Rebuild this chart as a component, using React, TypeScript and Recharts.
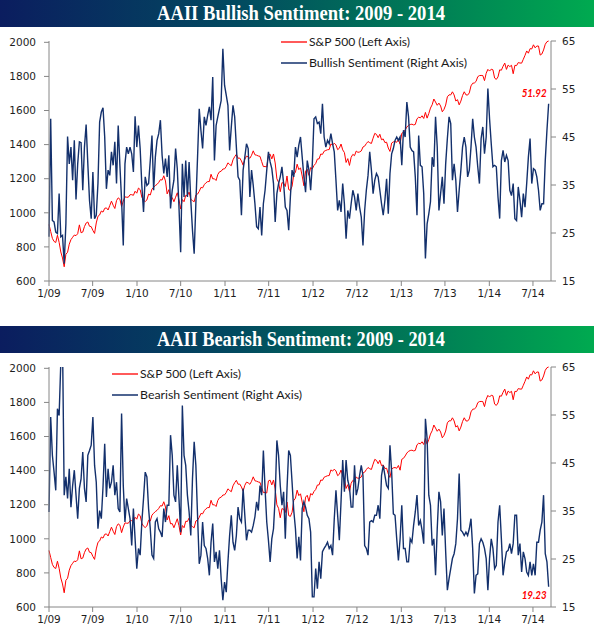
import React from 'react';
import { LabelList, Line, LineChart, XAxis, YAxis } from 'recharts';

// weekly readings, Jan 2009 through early Sep 2014
const spx = [
  931.8, 890.4, 850.1, 831.9, 825.9, 868.6, 826.8, 770.1, 735.1, 683.4,
  756.6, 768.5, 815.9, 842.5, 856.6, 869.6, 866.2, 877.5, 929.2, 882.9,
  887.0, 919.1, 940.1, 946.2, 921.2, 918.9, 896.4, 879.1, 940.4, 979.3,
  987.5, 1010.5, 1004.1, 1026.1, 1028.9, 1016.4, 1042.7, 1068.3, 1044.4, 1025.2,
  1071.5, 1087.7, 1079.6, 1036.2, 1069.3, 1093.5, 1091.4, 1091.5, 1106.0, 1106.4,
  1102.5, 1126.5, 1115.1, 1145.0, 1136.0, 1091.8, 1073.9, 1066.2, 1075.5, 1109.2,
  1104.5, 1138.7, 1150.0, 1159.9, 1166.6, 1178.1, 1194.4, 1192.1, 1217.3, 1186.7,
  1110.9, 1135.7, 1087.7, 1089.4, 1064.9, 1091.6, 1117.5, 1076.8, 1022.6, 1078.0,
  1064.9, 1102.7, 1101.6, 1121.6, 1079.3, 1071.7, 1064.6, 1104.5, 1109.6, 1125.6,
  1148.7, 1146.2, 1165.2, 1176.2, 1183.1, 1183.3, 1225.9, 1199.2, 1199.7, 1189.4,
  1224.7, 1240.4, 1243.9, 1256.8, 1257.6, 1271.5, 1293.2, 1283.4, 1276.3, 1310.9,
  1329.2, 1343.0, 1320.0, 1321.2, 1304.3, 1279.2, 1313.8, 1332.4, 1328.2, 1319.7,
  1337.4, 1363.6, 1340.2, 1337.8, 1333.3, 1331.1, 1300.2, 1271.0, 1271.5, 1268.5,
  1339.7, 1344.0, 1316.1, 1345.0, 1292.3, 1199.4, 1178.8, 1123.5, 1176.8, 1174.0,
  1154.2, 1216.0, 1136.4, 1131.4, 1155.5, 1224.6, 1238.3, 1285.1, 1253.2, 1263.9,
  1215.7, 1158.7, 1244.3, 1255.2, 1219.7, 1265.3, 1257.6, 1277.8, 1289.1, 1315.4,
  1316.3, 1344.9, 1342.6, 1361.2, 1365.7, 1370.0, 1370.9, 1404.2, 1397.1, 1408.5,
  1398.1, 1370.3, 1378.5, 1403.4, 1369.1, 1353.4, 1295.2, 1317.8, 1278.0, 1325.7,
  1342.8, 1335.0, 1362.2, 1354.7, 1356.8, 1362.7, 1386.0, 1391.0, 1405.9, 1418.2,
  1411.1, 1406.6, 1437.9, 1465.8, 1460.2, 1440.7, 1460.9, 1428.6, 1433.2, 1411.9,
  1414.2, 1379.9, 1359.9, 1409.2, 1416.2, 1418.1, 1413.6, 1430.2, 1402.4, 1466.5,
  1472.1, 1486.0, 1503.0, 1513.2, 1517.9, 1519.8, 1515.6, 1518.2, 1551.2, 1560.7,
  1556.9, 1569.2, 1553.3, 1588.9, 1555.3, 1582.2, 1614.4, 1633.7, 1667.5, 1649.6,
  1630.7, 1643.4, 1626.7, 1592.4, 1606.3, 1631.9, 1680.2, 1692.1, 1691.7, 1709.7,
  1691.4, 1655.8, 1663.5, 1633.0, 1655.2, 1688.0, 1709.9, 1691.8, 1690.5, 1703.2,
  1744.5, 1759.8, 1761.6, 1770.6, 1798.2, 1804.8, 1805.8, 1805.1, 1775.3, 1818.3,
  1841.4, 1831.4, 1842.4, 1838.7, 1790.3, 1782.6, 1797.0, 1838.6, 1836.3, 1859.5,
  1878.0, 1841.1, 1866.5, 1857.6, 1865.1, 1815.7, 1864.9, 1863.4, 1881.1, 1878.5,
  1877.9, 1900.5, 1923.6, 1949.4, 1936.2, 1962.9, 1961.0, 1985.4, 1967.6, 1978.2,
  1978.3, 1925.2, 1931.6, 1955.1, 1988.4, 2003.4, 2007.7,
];

const bullish = [
  24.2, 48.8, 27.6, 27.3, 25.2, 24.9, 33.2, 24.2, 24.5, 18.6,
  26.9, 45.1, 39.4, 42.9, 36.0, 44.3, 32.0, 39.4, 44.0, 43.8,
  33.9, 42.9, 47.6, 39.4, 31.8, 28.0, 37.7, 28.0, 28.7, 35.3,
  48.1, 50.2, 51.1, 45.0, 34.2, 38.1, 37.0, 41.9, 39.1, 44.0,
  35.3, 47.4, 39.1, 31.8, 22.4, 39.4, 42.9, 41.5, 42.9, 41.5,
  37.7, 49.3, 42.9, 47.4, 42.6, 34.9, 29.4, 36.7, 34.9, 35.3,
  40.1, 45.3, 33.9, 40.8, 44.3, 45.7, 48.5, 41.2, 37.4, 40.5,
  36.7, 41.2, 30.1, 33.9, 36.0, 42.6, 38.4, 30.4, 21.0, 39.4,
  32.5, 40.1, 32.5, 39.8, 31.8, 25.6, 20.7, 31.1, 40.8, 50.9,
  46.4, 42.6, 49.2, 47.4, 49.5, 51.3, 48.5, 57.5, 40.1, 47.4,
  49.2, 50.9, 52.6, 63.4, 55.8, 53.7, 51.6, 42.2, 47.1, 51.6,
  49.2, 42.9, 36.7, 36.0, 28.7, 38.1, 40.8, 43.6, 42.6, 32.5,
  38.1, 34.9, 31.1, 26.3, 25.9, 30.4, 24.5, 31.1, 33.9, 38.1,
  41.9, 39.8, 38.4, 35.3, 27.3, 33.2, 35.3, 36.7, 38.8, 35.3,
  30.4, 29.7, 25.6, 32.5, 38.1, 36.7, 42.9, 40.8, 43.3, 45.0,
  40.8, 36.7, 33.5, 40.1, 38.1, 33.9, 39.4, 48.8, 49.2, 47.8,
  48.1, 45.7, 51.9, 45.0, 42.9, 44.3, 43.6, 45.7, 43.6, 41.9,
  36.0, 29.7, 31.8, 29.4, 35.3, 31.1, 23.8, 29.7, 28.0, 31.1,
  33.9, 32.5, 29.7, 33.2, 30.4, 28.3, 22.4, 29.7, 33.9, 37.0,
  41.9, 38.1, 33.2, 36.0, 37.4, 36.7, 33.9, 31.1, 28.7, 31.8,
  36.3, 29.0, 37.4, 41.5, 42.6, 44.3, 45.0, 44.3, 45.0, 39.1,
  46.4, 45.0, 52.3, 49.2, 42.9, 42.2, 41.9, 36.7, 28.7, 45.3,
  39.1, 38.8, 33.2, 19.7, 26.9, 29.0, 31.5, 40.8, 38.8, 49.2,
  42.9, 29.7, 33.2, 36.7, 31.1, 39.4, 44.7, 49.2, 47.8, 36.0,
  39.4, 36.0, 29.4, 33.9, 38.1, 42.9, 45.0, 42.9, 36.7, 38.1,
  42.9, 48.8, 45.0, 42.9, 38.8, 35.3, 44.7, 47.1, 41.5, 45.0,
  55.1, 48.8, 43.6, 38.8, 39.1, 38.8, 32.5, 28.0, 40.1, 42.2,
  39.8, 41.2, 40.1, 33.9, 32.8, 35.3, 28.0, 27.6, 34.6, 31.8,
  28.3, 33.2, 30.4, 35.3, 40.8, 44.7, 35.3, 38.4, 38.1, 36.7,
  33.9, 29.7, 31.1, 31.1, 40.1, 46.4, 51.92,
];

const bearish = [
  34.8, 54.6, 46.6, 43.1, 39.3, 56.3, 54.9, 66.0, 70.3, 38.3,
  42.1, 37.6, 43.8, 35.8, 40.3, 43.5, 38.3, 33.4, 39.7, 41.7,
  47.3, 39.7, 36.9, 46.6, 47.6, 48.7, 54.6, 44.5, 41.0, 31.3,
  35.1, 33.4, 40.0, 49.0, 37.9, 43.8, 39.7, 41.0, 44.5, 38.3,
  41.0, 35.5, 34.8, 55.3, 40.3, 32.7, 37.6, 35.5, 33.4, 27.8,
  35.5, 29.2, 23.0, 27.2, 25.8, 32.7, 37.6, 43.1, 42.1, 35.5,
  31.3, 25.8, 25.1, 32.7, 33.4, 31.3, 30.6, 29.6, 35.5, 32.7,
  36.2, 36.2, 50.8, 46.6, 38.3, 36.9, 44.5, 37.6, 30.6, 57.0,
  46.6, 44.5, 38.3, 34.8, 29.9, 41.7, 49.4, 44.5, 34.1, 24.0,
  25.8, 32.7, 27.8, 27.2, 25.1, 21.6, 28.5, 32.4, 24.4, 26.5,
  23.0, 26.8, 20.9, 16.4, 20.2, 18.1, 24.4, 29.9, 34.1, 28.5,
  26.8, 29.9, 35.8, 33.4, 32.7, 39.7, 34.1, 28.9, 31.0, 31.0,
  30.6, 32.0, 33.8, 36.9, 35.1, 40.3, 38.3, 47.6, 39.7, 32.7,
  28.9, 24.4, 29.2, 31.3, 37.9, 49.7, 46.6, 40.3, 36.2, 39.0,
  29.2, 39.7, 47.6, 46.6, 41.0, 35.1, 31.3, 25.1, 29.6, 24.7,
  35.5, 36.9, 35.8, 34.1, 33.4, 30.6, 17.1, 17.1, 23.0, 18.8,
  24.4, 20.9, 26.5, 27.2, 27.8, 28.5, 27.2, 27.8, 25.8, 33.4,
  39.3, 34.1, 28.9, 36.9, 45.6, 39.0, 45.6, 41.4, 40.0, 35.8,
  35.8, 44.5, 38.3, 39.7, 42.4, 44.5, 42.4, 27.8, 27.2, 25.8,
  32.7, 33.0, 32.7, 34.1, 34.1, 36.2, 33.4, 42.4, 44.5, 42.4,
  40.3, 39.7, 48.7, 43.1, 34.4, 34.1, 29.2, 24.7, 29.2, 36.2,
  27.2, 27.2, 24.4, 24.4, 29.2, 28.5, 32.0, 34.8, 38.3, 32.0,
  33.0, 31.0, 28.2, 54.2, 50.1, 38.3, 36.2, 27.8, 29.2, 21.6,
  31.3, 39.0, 36.9, 29.9, 35.5, 26.5, 18.5, 20.9, 23.0, 25.1,
  26.1, 28.2, 33.4, 42.8, 31.0, 30.6, 29.9, 30.6, 29.9, 31.3,
  33.4, 27.2, 17.8, 21.6, 21.9, 28.2, 29.2, 28.5, 27.2, 25.1,
  18.5, 25.1, 29.2, 27.2, 23.0, 23.7, 32.7, 36.2, 29.2, 21.6,
  24.4, 26.5, 26.8, 28.2, 26.1, 28.2, 34.1, 34.1, 25.8, 28.2,
  22.3, 26.5, 25.1, 22.3, 21.6, 24.4, 21.6, 24.0, 21.6, 28.5,
  28.5, 31.0, 32.7, 38.3, 26.1, 24.4, 19.23,
];

const tickLabels = ['1/09', '7/09', '1/10', '7/10', '1/11', '7/11', '1/12', '7/12', '1/13', '7/13', '1/14', '7/14'];
const leftTicks = [600, 800, 1000, 1200, 1400, 1600, 1800, 2000];
const rightTicks = [15, 25, 35, 45, 55, 65];

const WEEK_MS = 7 * 86400000;
const weekOf = (label: string): number => {
  const [m, yy] = label.split('/').map(Number);
  return (Date.UTC(2000 + yy, m - 1, 1) - Date.UTC(2009, 0, 1)) / WEEK_MS;
};
const tickWeeks = tickLabels.map(weekOf);

const rows = spx.map((v, i) => ({ w: i, spx: v, bull: bullish[i], bear: bearish[i] }));
const lastIndex = rows.length - 1;

const RED = '#ff0000';
const NAVY = '#13306c';
const AXIS = '#868686';
const tickStyle = { fontSize: 10.5, fill: '#1e1e1e', fontFamily: '"DejaVu Sans", Verdana, sans-serif' };
const legendFont = 'Lato, "Noto Sans", sans-serif';

interface PanelProps {
  title: string;
  top: number;
  seriesKey: 'bull' | 'bear';
  seriesName: string;
  legendX: number;
  legendY: number;
  labelDy: number;
}

const TitleBar: React.FC<{ text: string; top: number }> = ({ text, top }) => (
  <div
    style={{
      position: 'absolute',
      left: 0,
      top,
      width: 594,
      height: 27,
      background: 'linear-gradient(to right, #0b1d5f 0%, #024a60 40%, #007a56 70%, #00aa50 100%)',
    }}
  >
    <svg width={594} height={27} style={{ display: 'block' }}>
      <text
        x={301}
        y={20}
        textAnchor="middle"
        textLength={288}
        lengthAdjust="spacingAndGlyphs"
        fontFamily='"Liberation Serif", "DejaVu Serif", serif'
        fontWeight="bold"
        fontSize={20}
        fill="#ffffff"
      >
        {text}
      </text>
    </svg>
  </div>
);

const Panel: React.FC<PanelProps> = ({ title, top, seriesKey, seriesName, legendX, legendY, labelDy }) => {
  const chartTop = top + 27;
  return (
    <>
      <TitleBar text={title} top={top} />
      <div style={{ position: 'absolute', left: 0, top: chartTop, width: 594, height: 282 }}>
        <LineChart width={594} height={282} data={rows} margin={{ top: 14, right: 0, bottom: 0, left: 0 }}>
          <XAxis
            dataKey="w"
            type="number"
            domain={[0, 297.4]}
            ticks={tickWeeks}
            interval={0}
            tickFormatter={(_v: number, i: number) => tickLabels[i]}
            stroke={AXIS}
            tickSize={5}
            tickMargin={4}
            height={28}
            tick={tickStyle}
          />
          <YAxis
            yAxisId="left"
            domain={[600, 2000]}
            ticks={leftTicks}
            interval={0}
            width={49}
            stroke={AXIS}
            tickSize={5}
            tickMargin={8}
            tick={tickStyle}
          />
          <YAxis
            yAxisId="right"
            orientation="right"
            domain={[15, 65]}
            ticks={rightTicks}
            interval={0}
            allowDataOverflow
            width={43}
            stroke={AXIS}
            tickSize={5}
            tickMargin={6}
            tick={{ ...tickStyle, textAnchor: 'start' }}
          />
          <Line
            yAxisId="left"
            type="linear"
            dataKey="spx"
            stroke={RED}
            strokeWidth={1}
            dot={false}
            isAnimationActive={false}
          />
          <Line
            yAxisId="right"
            type="linear"
            dataKey={seriesKey}
            stroke={NAVY}
            strokeWidth={1.4}
            dot={false}
            isAnimationActive={false}
          >
            <LabelList
              dataKey={seriesKey}
              content={(p: any) =>
                p.index === lastIndex ? (
                  <text
                    x={Number(p.x) - 2}
                    y={Number(p.y) + labelDy}
                    textAnchor="end"
                    textLength={25}
                    lengthAdjust="spacingAndGlyphs"
                    fill={RED}
                    fontFamily={legendFont}
                    fontWeight="bold"
                    fontStyle="italic"
                    fontSize={12}
                  >
                    {p.value}
                  </text>
                ) : null
              }
            />
          </Line>
        </LineChart>
        <svg
          width={594}
          height={80}
          style={{ position: 'absolute', left: 0, top: 0, pointerEvents: 'none' }}
        >
          <line x1={legendX} x2={legendX + 26} y1={legendY} y2={legendY} stroke={RED} strokeWidth={1.3} />
          <text
            x={legendX + 28}
            y={legendY + 4}
            textLength={101}
            lengthAdjust="spacingAndGlyphs"
            fontFamily={legendFont}
            fontSize={12}
            fill="#1a1a1a"
          >
            S&amp;P 500 (Left Axis)
          </text>
          <line x1={legendX} x2={legendX + 26} y1={legendY + 21} y2={legendY + 21} stroke={NAVY} strokeWidth={1.5} />
          <text
            x={legendX + 28}
            y={legendY + 25}
            textLength={seriesKey === 'bull' ? 158 : 162}
            lengthAdjust="spacingAndGlyphs"
            fontFamily={legendFont}
            fontSize={12}
            fill="#1a1a1a"
          >
            {seriesName}
          </text>
        </svg>
      </div>
    </>
  );
};

export default function App() {
  return (
    <div
      style={{
        position: 'absolute',
        left: 0,
        top: 0,
        width: 594,
        height: 633,
        overflow: 'hidden',
        background: '#ffffff',
      }}
    >
      <Panel
        title="AAII Bullish Sentiment: 2009 - 2014"
        top={0}
        seriesKey="bull"
        seriesName="Bullish Sentiment (Right Axis)"
        legendX={281}
        legendY={15}
        labelDy={-7}
      />
      <Panel
        title="AAII Bearish Sentiment: 2009 - 2014"
        top={326}
        seriesKey="bear"
        seriesName="Bearish Sentiment (Right Axis)"
        legendX={112}
        legendY={21}
        labelDy={12}
      />
    </div>
  );
}
